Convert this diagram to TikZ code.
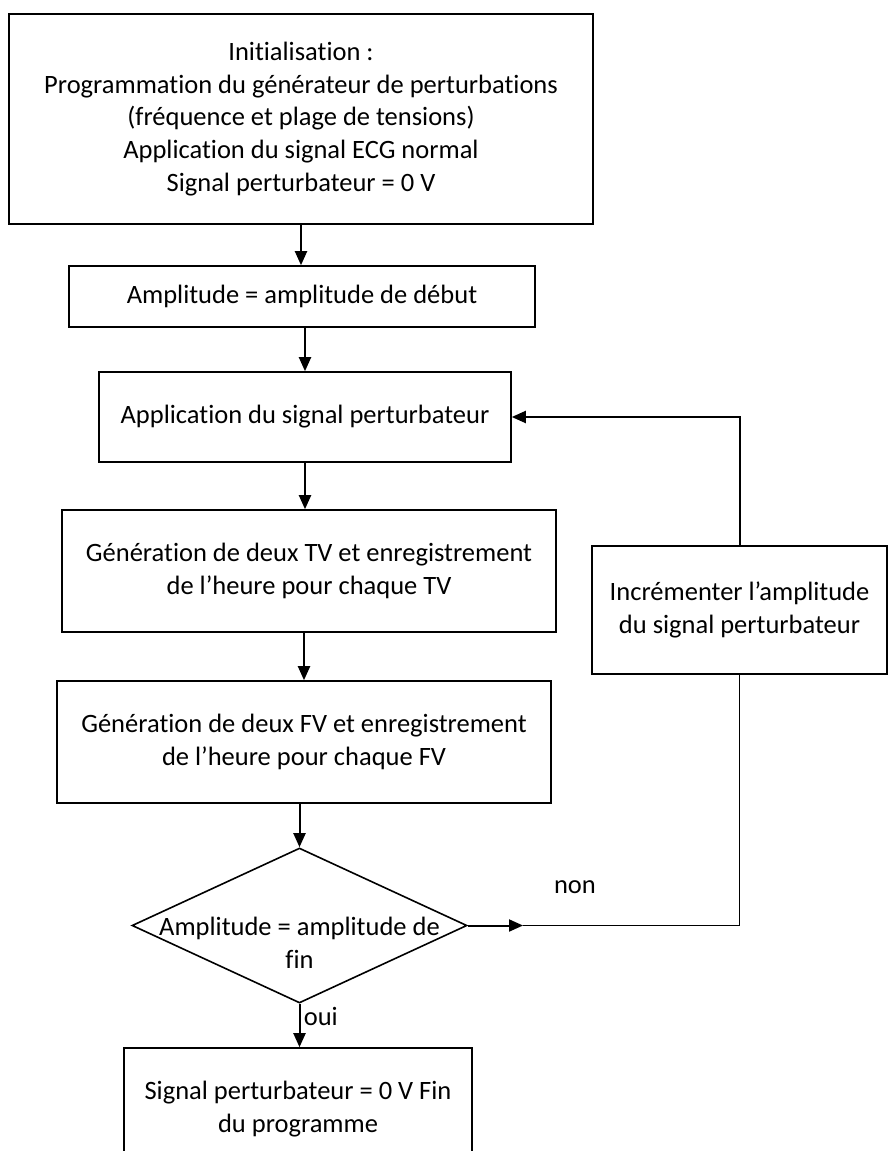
\documentclass[tikz,border=0pt]{standalone}
\usepackage{fontspec}
\setmainfont{Carlito}[Ligatures=NoCommon]
\usetikzlibrary{positioning,arrows.meta,shapes.geometric}

\begin{document}
\begin{tikzpicture}[
  x=1pt, y=-1pt,
  >={Triangle[length=14pt,width=12pt]},
  every node/.style={font=\fontsize{26.5}{32.8}\selectfont},
  box/.style={draw, line width=1.6pt, align=center, inner sep=0pt},
  decision/.style={draw, diamond, line width=1.6pt, inner sep=0pt},
  flow/.style={->, line width=2pt},
  link/.style={line width=1.6pt},
]
\useasboundingbox (0,0) rectangle (888,1151);

\node[box, minimum width=584pt, minimum height=210pt] (init) at (301,119)
  {Initialisation :\\Programmation du générateur de perturbations\\(fréquence et plage de tensions)\\Application du signal ECG normal\\Signal perturbateur = 0 V};
\node[box, minimum width=466pt, minimum height=61pt]  (amp)  at (302,296.5)
  {Amplitude = amplitude de début};
\node[box, minimum width=412pt, minimum height=90pt]  (apply) at (305,417)
  {Application du signal perturbateur};
\node[box, minimum width=494pt, minimum height=122pt] (gentv) at (309,571)
  {Génération de deux TV et enregistrement\\de l’heure pour chaque TV};
\node[box, minimum width=494pt, minimum height=122pt] (genfv) at (304,742)
  {Génération de deux FV et enregistrement\\de l’heure pour chaque FV};
\node[decision, minimum width=335pt, minimum height=155pt,
      label={[align=center, yshift=-17pt]center:Amplitude = amplitude de\\fin}]
                                                       (test) at (299.5,925.5) {};
\node[box, minimum width=348pt, minimum height=122pt] (stop) at (298,1109)
  {Signal perturbateur = 0 V Fin\\du programme};
\node[box, minimum width=295pt, minimum height=128pt] (incr) at (739.5,610)
  {Incrémenter l’amplitude\\du signal perturbateur};
\coordinate (nontip) at (523,925.5);

\draw[flow] (init.south)  -- (init.south |- amp.north);
\draw[flow] (amp.south -| apply.north)  -- (apply.north);
\draw[flow] (apply.south) -- (apply.south |- gentv.north);
\draw[flow] (genfv.north |- gentv.south) -- (genfv.north);
\draw[flow] (test.north |- genfv.south) -- (test.north);
\draw[flow] (test.south)  -- node[right, pos=0.3]{oui} (test.south |- stop.north);
\draw[flow] (test.east)   -- (nontip);
\draw[link] (nontip) -| node[pos=0.12, above=28pt]{non} (incr.south);
\draw[flow] (incr.north)  |- (apply.east);
\end{tikzpicture}
\end{document}
